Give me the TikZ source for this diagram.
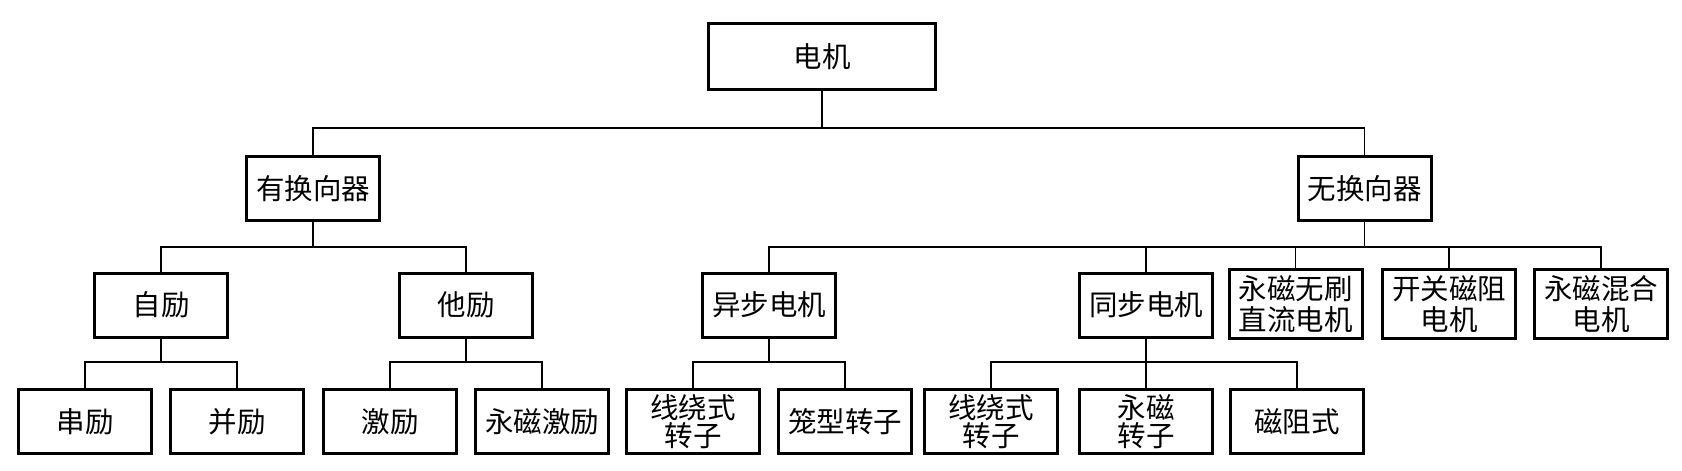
\documentclass[tikz,border=0pt]{standalone}
\usepackage{fontspec}
\newfontfamily\cjk{Noto Sans CJK SC}
\begin{document}
\begin{tikzpicture}[x=1pt,y=-1pt,
  box/.style={draw=black,line width=3pt,minimum width=133pt,minimum height=64pt,inner sep=0pt,align=center,
    font=\cjk\fontsize{28.5}{31}\selectfont},
  tallbox/.style={box,minimum height=69pt},
  lowbox/.style={box,font=\cjk\fontsize{28.5}{28}\selectfont},
  link/.style={draw=black,line width=1.3pt}]
\useasboundingbox (0,0) rectangle (1682,471);
\fill[white] (0,0) rectangle (1682,471);
% level buses
\coordinate (b1) at (0,128);
\coordinate (b2) at (0,247);
\coordinate (b3) at (0,362);
% nodes
\node[box,minimum width=227pt,minimum height=66pt] (dj) at (822,56.5) {电机};
\node[box] (yh) at (313,188.5) {有换向器};
\node[box] (wh) at (1364.5,188.5) {无换向器};
\node[box] (zl) at (161,305) {自励};
\node[box] (tl) at (466,305) {他励};
\node[box] (yb) at (769,305) {异步电机};
\node[box] (tb) at (1146,305) {同步电机};
\node[tallbox] (ws) at (1295.5,304) {永磁无刷\\直流电机};
\node[tallbox] (kg) at (1449,304) {开关磁阻\\电机};
\node[tallbox] (hh) at (1601,304) {永磁混合\\电机};
\node[box] (cl) at (85,421.5) {串励};
\node[box] (bl) at (237,421.5) {并励};
\node[box] (jl) at (390,421.5) {激励};
\node[box] (yj) at (542,421.5) {永磁激励};
\node[lowbox] (xa) at (693,421.5) {线绕式\\转子};
\node[box] (lx) at (845,421.5) {笼型转子};
\node[lowbox] (xb) at (991,421.5) {线绕式\\转子};
\node[lowbox] (yc) at (1146,421.5) {永磁\\转子};
\node[box] (cz) at (1297,421.5) {磁阻式};
% connectors
\draw[link] (dj.south) -- (dj.south |- b1) -| (yh.north);
\draw[link] (dj.south |- b1) -| (wh.north);
\draw[link] (yh.south) -- (yh.south |- b2) -| (zl.north);
\draw[link] (yh.south |- b2) -| (tl.north);
\draw[link] (wh.south) -- (wh.south |- b2) -| (yb.north);
\draw[link] (wh.south |- b2) -| (tb.north);
\draw[link] (wh.south |- b2) -| (ws.north);
\draw[link] (wh.south |- b2) -| (kg.north);
\draw[link] (wh.south |- b2) -| (hh.north);
\draw[link] (zl.south) -- (zl.south |- b3) -| (cl.north);
\draw[link] (zl.south |- b3) -| (bl.north);
\draw[link] (tl.south) -- (tl.south |- b3) -| (jl.north);
\draw[link] (tl.south |- b3) -| (yj.north);
\draw[link] (yb.south) -- (yb.south |- b3) -| (xa.north);
\draw[link] (yb.south |- b3) -| (lx.north);
\draw[link] (tb.south) -- (yc.north);
\draw[link] (tb.south |- b3) -| (xb.north);
\draw[link] (tb.south |- b3) -| (cz.north);
\end{tikzpicture}
\end{document}
